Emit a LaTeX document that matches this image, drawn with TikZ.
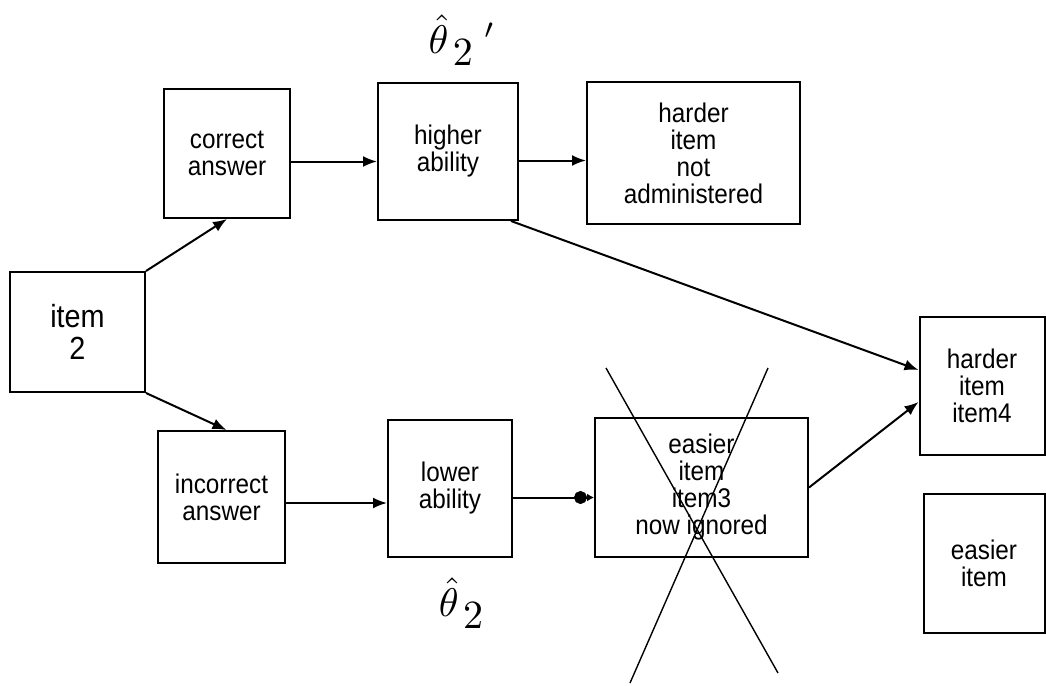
\documentclass[tikz,border=0pt]{standalone}
\usepackage{fontspec}
\setmainfont{Liberation Sans}[FakeStretch=0.9]
\usetikzlibrary{arrows.meta}
\begin{document}
\begin{tikzpicture}[x=1pt,y=-1pt]
            \tikzstyle{box}=[rectangle, draw, line width=2pt, align=center, inner sep=0pt, font=\fontsize{27}{27}\selectfont]
            \tikzstyle{arr}=[line width=2pt, -{Latex[length=14pt,width=11pt]}]
            \tikzstyle{est}=[inner sep=0pt]
            \useasboundingbox (0,0) rectangle (1046,685);

            \node[box, minimum width=135pt, minimum height=120pt, font=\fontsize{32}{32}\selectfont] (item2) at (77.5,332) {item\\2};
            \node[box, minimum width=126pt, minimum height=129pt] (correct) at (227,153.5) {correct\\answer};
            \node[box, minimum width=127pt, minimum height=132pt] (incorrect) at (221.5,497) {incorrect\\answer};
            \node[box, minimum width=140pt, minimum height=137pt] (higher) at (448,151.5) {higher\\ability};
            \node[box, minimum width=124pt, minimum height=137pt] (lower) at (450,488.5) {lower\\ability};
            \node[box, minimum width=213pt, minimum height=142pt] (harder) at (693.5,153) {harder\\item\\not\\administered};
            \node[box, minimum width=213pt, minimum height=139pt] (easier3) at (701.5,487.5) {easier\\item\\item3\\now ignored};
            \node[box, minimum width=125pt, minimum height=138pt] (item4) at (982,386) {harder\\item\\item4};
            \node[box, minimum width=121pt, minimum height=139pt] (easier) at (984,563.5) {easier\\item};

            \node[est] (thetaup) at (462,40) {\scalebox{4}{$\hat{\theta}_{\,\textstyle 2}{}^{\;\prime}$}};
            \node[est] (thetadown) at (462,603) {\scalebox{4}{$\hat{\theta}_{\,\textstyle 2}$}};

            \draw[arr] (item2.north east) -- (correct.south);
            \draw[arr] (item2.south east) -- ([xshift=5pt]incorrect.north);
            \draw[arr] ([yshift=-8pt]correct.east) -- ([yshift=-8pt]correct.east -| higher.west);
            \draw[arr] ([yshift=-6pt]incorrect.east) -- ([yshift=-6pt]incorrect.east -| lower.west);
            \draw[arr] ([yshift=-9pt]higher.east) -- ([yshift=-9pt]higher.east -| harder.west);
            \draw[line width=2pt, -{Circle[length=13pt] Latex[length=7pt,width=8pt]}] ([yshift=-9pt]lower.east) -- ([yshift=-9pt]lower.east -| easier3.west);
            \draw[arr] ([xshift=-8pt]higher.south east) -- ([yshift=16pt]item4.west);
            \draw[arr] (easier3.east) -- ([yshift=-16pt]item4.west);

            % crossed out
            \draw[line width=1.4pt] (606,368) -- (778,673);
            \draw[line width=1.4pt] (768,368) -- (630,683);
        \end{tikzpicture}
\end{document}
